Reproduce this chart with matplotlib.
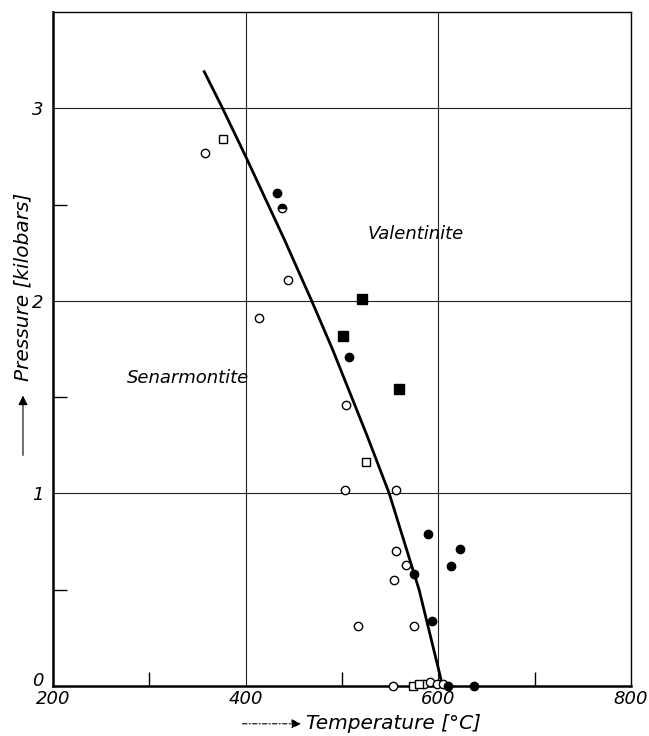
import numpy as np
import matplotlib
matplotlib.use("Agg")
import matplotlib.pyplot as plt
import matplotlib.transforms as mtransforms

# phase boundary
curve_T = [357, 376, 400, 440, 468.5, 490, 526, 549, 580, 602, 604]
curve_P = [3.19, 3.0, 2.75, 2.32, 2.0, 1.75, 1.30, 1.0, 0.5, 0.05, 0.0]

# experimental points
open_circ_T = [357.4, 444.3, 413.8, 504.1, 503.4, 556.3, 556.3, 566.4, 553.6, 516.6, 574.4,
               553, 585, 591, 599, 605]
open_circ_P = [2.77, 2.11, 1.91, 1.46, 1.02, 1.02, 0.70, 0.63, 0.55, 0.31, 0.31,
               0.0, 0.01, 0.02, 0.01, 0.01]
fill_circ_T = [432.5, 507.5, 589.6, 622.8, 612.8, 574.6, 593, 610, 637]
fill_circ_P = [2.56, 1.71, 0.79, 0.71, 0.625, 0.58, 0.34, 0.0, 0.0]
open_sq_T = [376.8, 524.9, 574, 580]
open_sq_P = [2.84, 1.165, 0.0, 0.01]
fill_sq_T = [521, 500.7, 559.1]
fill_sq_P = [2.01, 1.82, 1.54]
half_T = [437.4]
half_P = [2.48]

plt.rcParams['font.family'] = ['DejaVu Sans']

fig = plt.figure(figsize=(6.49, 7.36), dpi=100)
ax = fig.add_axes([0.0817, 0.0679, 0.8906, 0.9158])

ax.set_xlim(200, 800)
ax.set_ylim(0, 3.5)

# grid lines
for x in [400, 600]:
    ax.axvline(x, color='#222222', lw=0.8, zorder=1)
for y in [1, 2, 3]:
    ax.axhline(y, color='#222222', lw=0.8, zorder=1)

ax.plot(curve_T, curve_P, color='black', lw=2.0, zorder=3)

ms = 6
ax.plot(open_circ_T, open_circ_P, 'o', ms=ms, mfc='white', mec='black', mew=1.0,
        ls='none', zorder=4, clip_on=False)
ax.plot(fill_circ_T, fill_circ_P, 'o', ms=ms, mfc='black', mec='black', mew=1.0,
        ls='none', zorder=4, clip_on=False)
ax.plot(open_sq_T, open_sq_P, 's', ms=ms, mfc='white', mec='black', mew=1.0,
        ls='none', zorder=4, clip_on=False)
ax.plot(fill_sq_T, fill_sq_P, 's', ms=ms + 0.5, mfc='black', mec='black', mew=1.0,
        ls='none', zorder=4, clip_on=False)
ax.plot(half_T, half_P, 'o', ms=ms, fillstyle='top', mfc='black', mfcalt='white',
        mec='black', mew=1.0, ls='none', zorder=4)

# ticks
ax.set_xticks([200, 400, 600, 800])
ax.set_xticklabels(['200', '400', '600', '800'], fontsize=13, style='italic')
ax.set_yticks([0, 1, 2, 3])
ax.set_yticklabels(['0', '1', '2', '3'], fontsize=13, style='italic')
ax.tick_params(axis='both', which='major', length=0)
ax.tick_params(axis='x', which='major', pad=3)
ax.tick_params(axis='y', which='major', pad=7)
ax.set_xticks([300, 500, 700], minor=True)
ax.set_yticks([0.5, 1.5, 2.5], minor=True)
ax.tick_params(axis='both', which='minor', direction='in', length=10, width=1.0)

# lift the "0" a little so it sits above "200"
lbl0 = ax.get_yticklabels()[0]
lbl0.set_transform(lbl0.get_transform() + mtransforms.ScaledTranslation(0, 5 / 72, fig.dpi_scale_trans))

for side in ['left', 'bottom']:
    ax.spines[side].set_linewidth(1.8)
for side in ['right', 'top']:
    ax.spines[side].set_linewidth(1.0)

# region labels
ax.text(577, 2.345, 'Valentinite', fontsize=13, style='italic', ha='center', va='center')
ax.text(340, 1.60, 'Senarmontite', fontsize=13, style='italic', ha='center', va='center')

# axis labels with arrows
ax.text(-0.052, 0.592, 'Pressure [kilobars]', transform=ax.transAxes, rotation=90,
        fontsize=14.5, style='italic', ha='center', va='center')
ax.annotate('', xy=(-0.052, 0.435), xytext=(-0.052, 0.338), xycoords='axes fraction',
            arrowprops=dict(arrowstyle='-|>', color='black', lw=0.8, mutation_scale=14),
            annotation_clip=False)
ax.text(0.437, -0.056, 'Temperature [°C]', transform=ax.transAxes,
        fontsize=14.5, style='italic', ha='left', va='center')
ax.annotate('', xy=(0.434, -0.056), xytext=(0.323, -0.056), xycoords='axes fraction',
            arrowprops=dict(arrowstyle='-|>', color='black', lw=0.8, mutation_scale=14,
                            linestyle=(0, (4, 2, 1, 2))),
            annotation_clip=False)

fig.savefig('out.png', dpi=100)
